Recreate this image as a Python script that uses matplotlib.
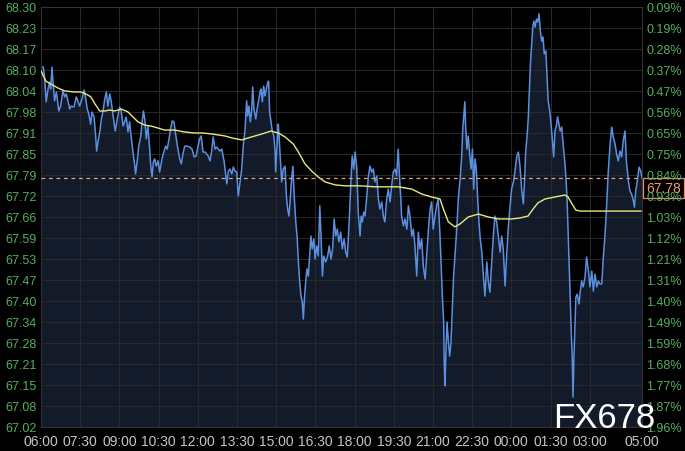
import matplotlib
matplotlib.use("Agg")
import matplotlib.pyplot as plt

plt.rcParams['font.family'] = ['Liberation Sans', 'DejaVu Sans']

# price trace, (hours after 06:00, price)
price = [
    (0.00, 68.117), (0.09, 68.117), (0.14, 68.081), (0.20, 68.011), (0.27, 68.050), (0.33, 68.071),
    (0.37, 68.050), (0.42, 68.117), (0.46, 68.071), (0.52, 68.014), (0.59, 68.041), (0.68, 67.983),
    (0.75, 67.998), (0.84, 68.044), (0.91, 68.026), (0.97, 68.035), (1.03, 68.014), (1.10, 67.989),
    (1.16, 67.998), (1.26, 67.995), (1.35, 68.026), (1.42, 68.011), (1.48, 67.998), (1.57, 68.020),
    (1.65, 68.047), (1.70, 68.026), (1.77, 67.989), (1.83, 67.974), (1.90, 67.943), (1.95, 67.980),
    (2.03, 67.965), (2.08, 67.919), (2.13, 67.861), (2.18, 67.889), (2.25, 67.919), (2.31, 67.959),
    (2.37, 67.980), (2.44, 68.020), (2.50, 68.041), (2.56, 67.998), (2.63, 68.035), (2.69, 68.011),
    (2.76, 67.968), (2.84, 67.922), (2.92, 67.959), (3.01, 67.995), (3.07, 67.983), (3.14, 67.937),
    (3.20, 67.950), (3.26, 67.965), (3.33, 67.919), (3.39, 67.950), (3.46, 67.898), (3.52, 67.858),
    (3.59, 67.815), (3.62, 67.791), (3.69, 67.837), (3.74, 67.876), (3.82, 67.907), (3.87, 67.950),
    (3.92, 67.983), (3.97, 67.959), (4.03, 67.898), (4.09, 67.937), (4.16, 67.867), (4.20, 67.815),
    (4.25, 67.782), (4.30, 67.828), (4.35, 67.837), (4.41, 67.815), (4.48, 67.831), (4.54, 67.797),
    (4.63, 67.837), (4.71, 67.861), (4.77, 67.876), (4.83, 67.867), (4.90, 67.898), (4.96, 67.928),
    (5.02, 67.953), (5.09, 67.950), (5.14, 67.919), (5.22, 67.876), (5.31, 67.837), (5.37, 67.822),
    (5.43, 67.852), (5.50, 67.876), (5.60, 67.876), (5.69, 67.873), (5.78, 67.867), (5.86, 67.843),
    (5.94, 67.846), (6.01, 67.876), (6.07, 67.898), (6.13, 67.907), (6.20, 67.858), (6.28, 67.858),
    (6.40, 67.846), (6.47, 67.831), (6.53, 67.861), (6.59, 67.904), (6.66, 67.867), (6.72, 67.873),
    (6.85, 67.861), (6.92, 67.867), (7.01, 67.828), (7.11, 67.761), (7.17, 67.800), (7.23, 67.806),
    (7.30, 67.791), (7.36, 67.812), (7.42, 67.800), (7.49, 67.797), (7.55, 67.724), (7.62, 67.767),
    (7.68, 67.806), (7.74, 67.876), (7.81, 67.928), (7.87, 68.014), (7.91, 67.968), (7.96, 67.998),
    (8.01, 67.950), (8.06, 67.980), (8.10, 68.056), (8.15, 67.989), (8.22, 67.959), (8.27, 67.989),
    (8.32, 68.011), (8.38, 68.041), (8.42, 68.050), (8.47, 68.011), (8.52, 68.059), (8.57, 68.029),
    (8.62, 68.050), (8.68, 68.071), (8.71, 68.074), (8.75, 67.980), (8.80, 67.950), (8.85, 67.922),
    (8.91, 67.907), (8.96, 67.858), (8.98, 67.797), (9.03, 67.876), (9.08, 67.943), (9.11, 67.907),
    (9.16, 67.837), (9.21, 67.767), (9.27, 67.806), (9.34, 67.815), (9.39, 67.724), (9.44, 67.684),
    (9.49, 67.663), (9.53, 67.706), (9.59, 67.776), (9.64, 67.815), (9.69, 67.724), (9.75, 67.645),
    (9.80, 67.602), (9.85, 67.523), (9.90, 67.462), (9.95, 67.419), (10.00, 67.401), (10.04, 67.349),
    (10.08, 67.410), (10.13, 67.462), (10.18, 67.502), (10.23, 67.480), (10.28, 67.541), (10.33, 67.602),
    (10.38, 67.563), (10.44, 67.593), (10.49, 67.532), (10.55, 67.572), (10.61, 67.541), (10.67, 67.694),
    (10.72, 67.593), (10.77, 67.480), (10.82, 67.541), (10.90, 67.523), (10.97, 67.541), (11.03, 67.572),
    (11.10, 67.532), (11.16, 67.563), (11.22, 67.654), (11.28, 67.602), (11.34, 67.623), (11.40, 67.584),
    (11.47, 67.614), (11.53, 67.563), (11.60, 67.593), (11.66, 67.553), (11.72, 67.538), (11.76, 67.593),
    (11.81, 67.675), (11.86, 67.767), (11.91, 67.846), (11.97, 67.806), (12.02, 67.858), (12.08, 67.815),
    (12.14, 67.675), (12.21, 67.602), (12.25, 67.663), (12.30, 67.645), (12.35, 67.675), (12.40, 67.663),
    (12.46, 67.715), (12.53, 67.785), (12.59, 67.815), (12.66, 67.797), (12.72, 67.806), (12.78, 67.767),
    (12.85, 67.785), (12.91, 67.715), (12.97, 67.684), (13.04, 67.706), (13.10, 67.663), (13.16, 67.645),
    (13.23, 67.715), (13.29, 67.745), (13.36, 67.706), (13.42, 67.755), (13.48, 67.797), (13.55, 67.806),
    (13.61, 67.785), (13.67, 67.867), (13.71, 67.797), (13.77, 67.715), (13.80, 67.663), (13.87, 67.633),
    (13.93, 67.654), (14.00, 67.623), (14.06, 67.694), (14.12, 67.663), (14.19, 67.602), (14.25, 67.623),
    (14.31, 67.572), (14.38, 67.480), (14.44, 67.614), (14.50, 67.563), (14.57, 67.593), (14.63, 67.511),
    (14.70, 67.471), (14.76, 67.541), (14.82, 67.614), (14.89, 67.684), (14.95, 67.706), (15.01, 67.623),
    (15.08, 67.663), (15.14, 67.694), (15.20, 67.715), (15.27, 67.602), (15.31, 67.523), (15.36, 67.419),
    (15.41, 67.340), (15.43, 67.218), (15.46, 67.145), (15.50, 67.258), (15.54, 67.340), (15.59, 67.279),
    (15.64, 67.236), (15.69, 67.279), (15.74, 67.380), (15.79, 67.480), (15.84, 67.541), (15.91, 67.623),
    (15.97, 67.715), (16.04, 67.776), (16.10, 67.846), (16.14, 67.928), (16.18, 67.968), (16.22, 68.011),
    (16.25, 67.937), (16.30, 67.867), (16.35, 67.907), (16.41, 67.846), (16.46, 67.806), (16.51, 67.867),
    (16.56, 67.745), (16.61, 67.837), (16.66, 67.806), (16.71, 67.715), (16.76, 67.645), (16.81, 67.593),
    (16.87, 67.553), (16.93, 67.480), (16.99, 67.419), (17.06, 67.523), (17.12, 67.462), (17.18, 67.431),
    (17.25, 67.523), (17.31, 67.602), (17.37, 67.663), (17.44, 67.645), (17.50, 67.602), (17.57, 67.553),
    (17.63, 67.602), (17.69, 67.563), (17.76, 67.450), (17.82, 67.541), (17.88, 67.623), (17.95, 67.694),
    (18.01, 67.745), (18.08, 67.767), (18.14, 67.800), (18.21, 67.846), (18.27, 67.858), (18.33, 67.815),
    (18.40, 67.739), (18.46, 67.700), (18.50, 67.761), (18.55, 67.861), (18.60, 67.904), (18.65, 67.965),
    (18.69, 68.044), (18.73, 68.126), (18.78, 68.187), (18.82, 68.239), (18.86, 68.257), (18.91, 68.239),
    (18.96, 68.263), (19.01, 68.254), (19.06, 68.279), (19.11, 68.227), (19.16, 68.196), (19.21, 68.209),
    (19.26, 68.157), (19.32, 68.166), (19.36, 68.096), (19.41, 68.014), (19.47, 67.983), (19.52, 67.943),
    (19.57, 67.892), (19.62, 67.843), (19.67, 67.922), (19.72, 67.937), (19.77, 67.965), (19.82, 67.943),
    (19.87, 67.922), (19.93, 67.934), (19.98, 67.882), (20.03, 67.843), (20.08, 67.791), (20.13, 67.721),
    (20.18, 67.599), (20.22, 67.495), (20.26, 67.395), (20.29, 67.313), (20.33, 67.233), (20.36, 67.111),
    (20.40, 67.243), (20.44, 67.343), (20.47, 67.416), (20.52, 67.425), (20.59, 67.395), (20.64, 67.434),
    (20.69, 67.465), (20.75, 67.447), (20.82, 67.477), (20.88, 67.538), (20.95, 67.495), (21.01, 67.447),
    (21.08, 67.495), (21.14, 67.434), (21.20, 67.486), (21.27, 67.447), (21.33, 67.465), (21.39, 67.456),
    (21.46, 67.456), (21.52, 67.538), (21.58, 67.599), (21.65, 67.700), (21.71, 67.800), (21.78, 67.882),
    (21.84, 67.934), (21.90, 67.904), (21.97, 67.882), (22.03, 67.852), (22.09, 67.831), (22.16, 67.861),
    (22.22, 67.843), (22.28, 67.892), (22.35, 67.922), (22.41, 67.822), (22.48, 67.770), (22.54, 67.739),
    (22.60, 67.730), (22.67, 67.709), (22.71, 67.690), (22.76, 67.739), (22.82, 67.770), (22.89, 67.812),
    (22.95, 67.800), (23.00, 67.780),
]

# moving average
avg = [
    (0.00, 68.105), (0.19, 68.074), (0.38, 68.065), (0.65, 68.053), (0.91, 68.044), (1.29, 68.041),
    (1.53, 68.041), (1.72, 68.035), (1.91, 68.026), (2.07, 68.004), (2.25, 67.983), (2.44, 67.983),
    (2.63, 67.986), (2.82, 67.983), (3.07, 67.989), (3.33, 67.980), (3.52, 67.965), (3.71, 67.950),
    (3.97, 67.940), (4.22, 67.937), (4.48, 67.931), (4.73, 67.925), (5.12, 67.925), (5.50, 67.919),
    (5.88, 67.916), (6.20, 67.916), (6.53, 67.913), (7.04, 67.907), (7.30, 67.901), (7.68, 67.895),
    (8.06, 67.904), (8.45, 67.913), (8.80, 67.922), (9.08, 67.916), (9.34, 67.904), (9.66, 67.882),
    (9.85, 67.858), (10.10, 67.822), (10.36, 67.800), (10.61, 67.782), (10.87, 67.767), (11.25, 67.758),
    (11.63, 67.755), (12.21, 67.755), (12.78, 67.752), (13.29, 67.752), (13.67, 67.752), (14.19, 67.745),
    (14.57, 67.730), (14.95, 67.721), (15.27, 67.715), (15.40, 67.684), (15.59, 67.645), (15.84, 67.630),
    (16.04, 67.639), (16.35, 67.660), (16.74, 67.669), (17.12, 67.660), (17.50, 67.654), (18.01, 67.654),
    (18.33, 67.657), (18.64, 67.663), (18.83, 67.684), (19.02, 67.703), (19.29, 67.715), (19.67, 67.721),
    (20.05, 67.727), (20.17, 67.721), (20.32, 67.700), (20.47, 67.681), (20.63, 67.678), (21.39, 67.678),
    (22.96, 67.678),
]

last_price = 67.78
ymin, ymax = 67.02, 68.30
left_labels = ['68.30', '68.23', '68.17', '68.10', '68.04', '67.98', '67.91', '67.85', '67.79', '67.72',
               '67.66', '67.59', '67.53', '67.47', '67.40', '67.34', '67.28', '67.21', '67.15', '67.08', '67.02']
right_labels = ['0.09%', '0.19%', '0.28%', '0.37%', '0.47%', '0.56%', '0.65%', '0.75%', '0.84%', '0.93%',
                '1.03%', '1.12%', '1.21%', '1.31%', '1.40%', '1.49%', '1.59%', '1.68%', '1.77%', '1.87%', '1.96%']
time_ticks = [0, 1.5, 3, 4.5, 6, 7.5, 9, 10.5, 12, 13.5, 15, 16.5, 18, 19.5, 21, 23]
time_labels = ['06:00', '07:30', '09:00', '10:30', '12:00', '13:30', '15:00', '16:30', '18:00', '19:30',
               '21:00', '22:30', '00:00', '01:30', '03:00', '05:00']

pt, pp = zip(*price)
at, ap = zip(*avg)

fig = plt.figure(figsize=(6.85, 4.52), dpi=100, facecolor='black')
ax = fig.add_axes([41/685, 24/452, 601/685, 420/452], facecolor='black')

ax.fill_between(pt, pp, ymin, color='#131b2b', lw=0, zorder=0.3)
ax.plot(pt, pp, color='#5b8fe0', lw=1.1, zorder=2)
ax.plot(at, ap, color='#e8e87c', lw=1.0, zorder=3)
ax.axhline(last_price, color='#e0a070', lw=0.9, ls=(0, (3, 3)), zorder=3)

yt = [ymax - i*(ymax - ymin)/20 for i in range(21)]
ax.set_xlim(0, 23)
ax.set_ylim(ymin, ymax)
ax.set_yticks(yt)
ax.set_yticklabels(left_labels)
ax.set_xticks(time_ticks)
ax.set_xticklabels(time_labels)
ax.set_axisbelow(True)
ax.grid(True, color='#2a2a2a', lw=0.7)
ax.tick_params(axis='y', length=0, pad=3, labelcolor='#56ad5e', labelsize=9)
ax.tick_params(axis='x', length=0, pad=5, labelcolor='#c4c4c4', labelsize=10)
for s in ax.spines.values():
    s.set_color('#333333')
    s.set_linewidth(0.8)

ax2 = ax.twinx()
ax2.set_ylim(ymin, ymax)
ax2.set_yticks(yt)
ax2.set_yticklabels(right_labels)
ax2.tick_params(axis='y', length=0, pad=3, labelcolor='#56ad5e', labelsize=9)
for s in ax2.spines.values():
    s.set_visible(False)

ax.annotate(f'{last_price:.2f}', xy=(1, last_price), xycoords=('axes fraction', 'data'),
            xytext=(3, -7.5), textcoords='offset points', ha='left', va='center',
            color='#f09a6a', fontsize=10, zorder=10, annotation_clip=False,
            bbox=dict(boxstyle='square,pad=0.2', fc='black', ec='#e0906a', lw=0.9))

fig.text(655/685, 24/452, 'FX678', color='white', fontsize=25, ha='right', va='baseline')

fig.savefig('out.png', dpi=100, facecolor='black')
